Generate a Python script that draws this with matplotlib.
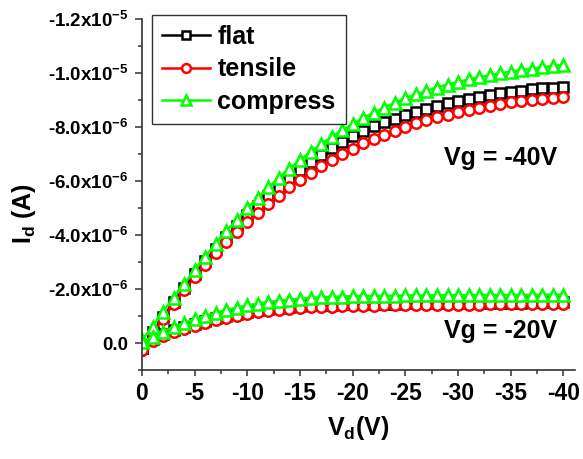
import matplotlib

matplotlib.use("Agg")
import matplotlib.pyplot as plt  # noqa: E402
import numpy as np  # noqa: E402
from matplotlib.ticker import FixedLocator, MultipleLocator  # noqa: E402

# ---------- data (|Id| in units of 1e-6 A, Id is negative) -----------------

vd = np.arange(0, -41, -1)  # drain sweep, 1 V steps

flat_40 = [-0.20, 0.40, 0.95, 1.52, 2.05, 2.56, 3.04, 3.50, 3.94, 4.35, 4.73,
           5.09, 5.44, 5.78, 6.10, 6.40, 6.69, 6.96, 7.21, 7.45, 7.66,
           7.85, 8.02, 8.17, 8.31, 8.44, 8.56, 8.67, 8.78, 8.88, 8.97,
           9.05, 9.12, 9.19, 9.25, 9.30, 9.35, 9.39, 9.43, 9.46, 9.49]
tensile_40 = [-0.25, 0.35, 0.90, 1.45, 1.96, 2.44, 2.90, 3.33, 3.74, 4.12, 4.48,
              4.82, 5.15, 5.46, 5.76, 6.04, 6.30, 6.55, 6.78, 7.00, 7.20,
              7.39, 7.56, 7.72, 7.87, 8.01, 8.13, 8.25, 8.36, 8.46, 8.55,
              8.63, 8.71, 8.78, 8.85, 8.91, 8.96, 9.01, 9.05, 9.08, 9.11]
compress_40 = [0.10, 0.60, 1.16, 1.67, 2.17, 2.70, 3.20, 3.68, 4.13, 4.57, 4.99,
               5.38, 5.76, 6.12, 6.46, 6.78, 7.08, 7.36, 7.63, 7.88, 8.11,
               8.33, 8.53, 8.72, 8.90, 9.07, 9.21, 9.34, 9.46, 9.57, 9.67,
               9.76, 9.84, 9.92, 9.99, 10.05, 10.11, 10.16, 10.21, 10.26, 10.30]

flat_20 = [-0.20, 0.14, 0.32, 0.47, 0.60, 0.71, 0.82, 0.91, 1.00, 1.08, 1.15,
           1.21, 1.26, 1.30, 1.34, 1.37, 1.39, 1.41, 1.42, 1.43, 1.44,
           1.45, 1.45, 1.46, 1.46, 1.47, 1.47, 1.48, 1.48, 1.48, 1.49,
           1.49, 1.49, 1.50, 1.50, 1.50, 1.50, 1.51, 1.51, 1.51, 1.51]
tensile_20 = [-0.25, 0.08, 0.25, 0.40, 0.53, 0.64, 0.75, 0.84, 0.93, 1.01, 1.08,
              1.14, 1.19, 1.23, 1.27, 1.30, 1.32, 1.34, 1.35, 1.36, 1.37,
              1.38, 1.38, 1.39, 1.39, 1.40, 1.40, 1.41, 1.41, 1.41, 1.42,
              1.42, 1.42, 1.43, 1.43, 1.43, 1.43, 1.44, 1.44, 1.44, 1.44]
compress_20 = [0.05, 0.22, 0.42, 0.60, 0.75, 0.89, 1.01, 1.12, 1.22, 1.31, 1.39,
               1.46, 1.52, 1.57, 1.61, 1.64, 1.67, 1.69, 1.71, 1.72, 1.73,
               1.74, 1.74, 1.75, 1.75, 1.76, 1.76, 1.76, 1.77, 1.77, 1.77,
               1.77, 1.78, 1.78, 1.78, 1.78, 1.78, 1.78, 1.79, 1.79, 1.79]

y_ticks = [0.0, -2e-6, -4e-6, -6e-6, -8e-6, -1.0e-5, -1.2e-5]
y_tick_labels = ["0.0", "-2.0x10$^{-6}$", "-4.0x10$^{-6}$", "-6.0x10$^{-6}$",
                 "-8.0x10$^{-6}$", "-1.0x10$^{-5}$", "-1.2x10$^{-5}$"]
x_ticks = [0, -5, -10, -15, -20, -25, -30, -35, -40]
x_tick_labels = ["0", "-5", "-10", "-15", "-20", "-25", "-30", "-35", "-40"]

# ---------- style ------------------------------------------------------------

FONT = "Liberation Sans"
plt.rcParams["font.family"] = FONT
plt.rcParams["font.weight"] = "bold"
plt.rcParams["mathtext.fontset"] = "custom"
plt.rcParams["mathtext.rm"] = f"{FONT}:bold"
plt.rcParams["mathtext.bf"] = f"{FONT}:bold"
plt.rcParams["mathtext.default"] = "bf"

styles = [
    ("flat", "black", "s", 7.0, flat_40, flat_20),
    ("tensile", "red", "o", 7.5, tensile_40, tensile_20),
    ("compress", "#00ff00", "^", 9.0, compress_40, compress_20),
]

fig = plt.figure(figsize=(5.83, 4.59), dpi=100)
ax = fig.add_axes([142 / 583, 1 - 370 / 459, 433 / 583, 351 / 459])

for name, color, marker, ms, upper, lower in styles:
    for i, series in enumerate((upper, lower)):
        ax.plot(vd, np.array(series) * -1e-6, color=color, marker=marker,
                markersize=ms, markerfacecolor="white", markeredgecolor=color,
                markeredgewidth=1.8, linewidth=1.8,
                label=name if i == 0 else None)

ax.set_xlim(0, -41.1)
ax.set_ylim(1e-6, -1.2e-5)

ax.xaxis.set_major_locator(FixedLocator(x_ticks))
ax.set_xticklabels(x_tick_labels, fontsize=16.5, fontweight="bold")
ax.xaxis.set_minor_locator(MultipleLocator(2.5))
ax.yaxis.set_major_locator(FixedLocator(y_ticks))
ax.set_yticklabels(y_tick_labels, fontsize=13.5, fontweight="bold")
ax.yaxis.set_minor_locator(MultipleLocator(1e-6))

for side in ("top", "right"):
    ax.spines[side].set_visible(False)
for side in ("left", "bottom"):
    ax.spines[side].set_color("#333333")
    ax.spines[side].set_linewidth(1.2)

ax.tick_params(axis="x", which="major", direction="out", length=4, width=1.1,
               color="#333333", pad=5)
ax.tick_params(axis="x", which="minor", direction="out", length=3, width=1.1,
               color="#333333")
ax.tick_params(axis="y", which="major", direction="out", length=5, width=1.1,
               color="#333333", pad=5)
ax.tick_params(axis="y", which="minor", direction="out", length=3, width=1.1,
               color="#333333")

ax.set_xlabel("V$_{d}$(V)", fontsize=18, fontweight="bold", labelpad=6)
fig.text(24 / 583, 1 - 213 / 459, "I$_{d}$ (A)", rotation=90, fontsize=18,
         fontweight="bold", ha="center", va="center")

ax.text(-28.7, -6.85e-6, "Vg = -40V", fontsize=18, fontweight="bold",
        ha="left", va="center")
ax.text(-28.7, -0.44e-6, "Vg = -20V", fontsize=18, fontweight="bold",
        ha="left", va="center")

leg = ax.legend(loc="upper left", bbox_to_anchor=(152 / 583, 1 - 15 / 459),
                bbox_transform=fig.transFigure, borderaxespad=0,
                fontsize=18, frameon=True, fancybox=False, edgecolor="black",
                handlelength=1.9, handletextpad=0.32, borderpad=0.4,
                labelspacing=0.33, markerscale=0.85)
leg.get_frame().set_linewidth(1.0)
for t in leg.get_texts():
    t.set_fontweight("bold")

fig.savefig("out.png", dpi=100)
plt.close(fig)
